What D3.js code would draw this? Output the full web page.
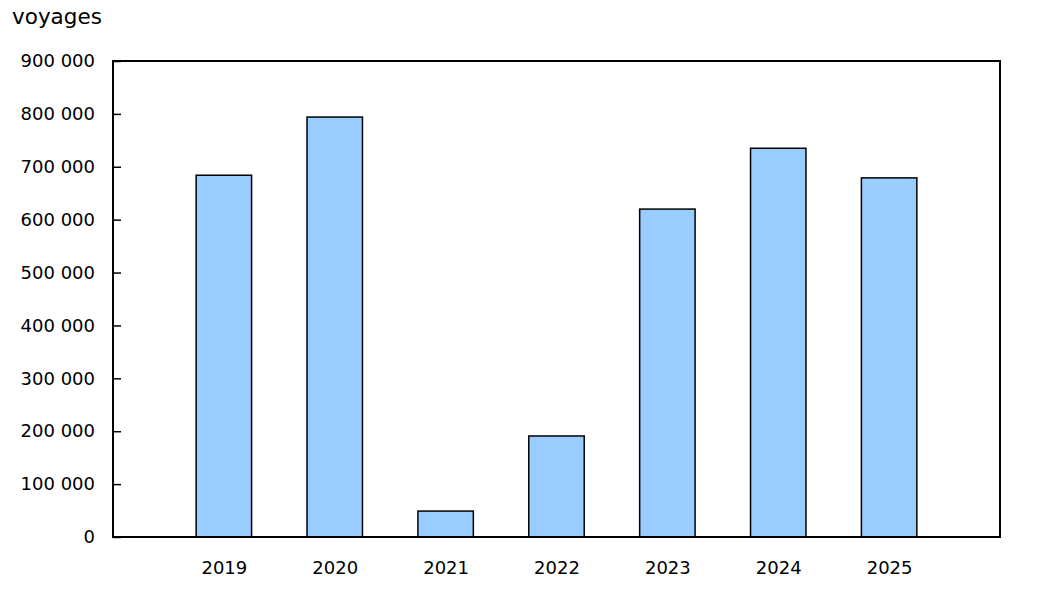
<!DOCTYPE html>
<html>
<head>
<meta charset="utf-8">
<script src="https://cdn.jsdelivr.net/npm/d3@7"></script>
<style>
  body { margin: 0; background: #fff; }
  text { font-family: "DejaVu Sans", Verdana, sans-serif; fill: #000; }
</style>
</head>
<body>
<svg id="chart" width="1038" height="593"></svg>
<script>
// data
const years = ['2019', '2020', '2021', '2022', '2023', '2024', '2025']
const trips = [684000, 794000, 49000, 191000, 620000, 735000, 679000]
const yTicks = [0, 100000, 200000, 300000, 400000, 500000, 600000, 700000, 800000, 900000]

const svg = d3.select('#chart')
const m = {left: 113, right: 1000, top: 61, bottom: 537}

const x = d3.scalePoint().domain(years).range([m.left, m.right]).padding(1)
const y = d3.scaleLinear().domain([0, 900000]).range([m.bottom, m.top])

// french style thousands separator
const fmt = v => d3.format(',')(v).replace(/,/g, ' ')

const barW = x.step() * 0.5

svg.append('g')
  .selectAll('rect')
  .data(years)
  .join('rect')
    .attr('x', d => x(d) - barW / 2)
    .attr('y', (d, i) => y(trips[i]))
    .attr('width', barW)
    .attr('height', (d, i) => y(0) - y(trips[i]))
    .attr('fill', '#99ccff')
    .attr('stroke', '#000')
    .attr('stroke-width', 1.5)

// y axis, ticks pointing into the plot
const yAxis = svg.append('g')
  .attr('transform', `translate(${m.left},0)`)
  .call(d3.axisRight(y).tickValues(yTicks).tickFormat(fmt).tickSize(8))
yAxis.select('.domain').remove()
yAxis.selectAll('line').attr('stroke', '#000').attr('stroke-width', 1.5)
yAxis.selectAll('text')
  .attr('x', -18)
  .attr('text-anchor', 'end')
  .style('font-size', '18px')

// x labels
const xAxis = svg.append('g')
  .attr('transform', `translate(0,${m.bottom})`)
  .call(d3.axisBottom(x).tickSize(0).tickPadding(24))
xAxis.select('.domain').remove()
xAxis.selectAll('text').style('font-size', '18px')

// frame
svg.append('rect')
  .attr('x', m.left)
  .attr('y', m.top)
  .attr('width', m.right - m.left)
  .attr('height', m.bottom - m.top)
  .attr('fill', 'none')
  .attr('stroke', '#000')
  .attr('stroke-width', 2)

svg.append('text')
  .attr('x', 12)
  .attr('y', 24)
  .style('font-size', '21.5px')
  .text('voyages')
</script>
</body>
</html>
